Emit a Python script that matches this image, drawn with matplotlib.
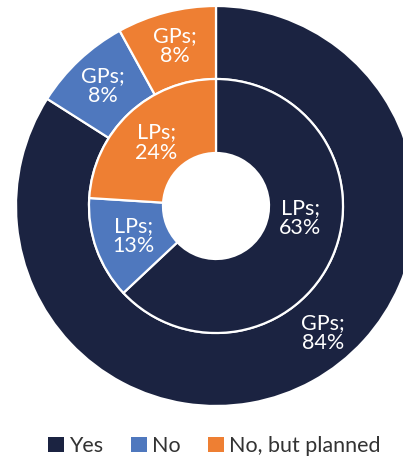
import matplotlib
matplotlib.use("Agg")
import matplotlib.pyplot as plt
from matplotlib.patches import Patch
import numpy as np

categories = ["Yes", "No", "No, but planned"]
gps_values = [84, 8, 8]
lps_values = [63, 13, 24]
colors = ["#1B2341", "#4F78BE", "#EE7F33"]

plt.rcParams['font.family'] = ['Lato', 'DejaVu Sans']

fig = plt.figure(figsize=(4.03, 4.59), dpi=100)
W, H = 403, 459
cx, cy, R = 216, 206, 200
ax = fig.add_axes([(cx - R) / W, (H - cy - R) / H, 2 * R / W, 2 * R / H])
ax.set_xlim(-1, 1)
ax.set_ylim(-1, 1)
ax.set_aspect('equal')
ax.axis('off')

r_outer = 1.0
r_mid = 0.635
r_hole = 0.265
lw = 1.6

w_out, _ = ax.pie(gps_values, radius=r_outer, colors=colors, startangle=90,
                  counterclock=False,
                  wedgeprops=dict(width=r_outer - r_mid, edgecolor='white', linewidth=lw))
w_in, _ = ax.pie(lps_values, radius=r_mid, colors=colors, startangle=90,
                 counterclock=False,
                 wedgeprops=dict(width=r_mid - r_hole, edgecolor='white', linewidth=lw))
ax.set_xlim(-1, 1)
ax.set_ylim(-1, 1)

def mid_angle(vals, i):
    tot = sum(vals)
    start = 90 - 360 * sum(vals[:i]) / tot
    return start - 180 * vals[i] / tot

# label placement: (radius, angle override)
outer_pos = [(0.83, -50), (0.825, None), (0.825, None)]
inner_pos = [(0.425, -8), (0.44, None), (0.435, None)]

lbl_kw = dict(ha='center', va='center', color='white', fontsize=15.5, linespacing=1.0)
for i, v in enumerate(gps_values):
    r, a = outer_pos[i]
    a = mid_angle(gps_values, i) if a is None else a
    ax.text(r * np.cos(np.radians(a)), r * np.sin(np.radians(a)), f"GPs;\n{v}%", **lbl_kw)
for i, v in enumerate(lps_values):
    r, a = inner_pos[i]
    a = mid_angle(lps_values, i) if a is None else a
    ax.text(r * np.cos(np.radians(a)), r * np.sin(np.radians(a)), f"LPs;\n{v}%", **lbl_kw)

handles = [Patch(facecolor=c, edgecolor='none') for c in colors]
fig.legend(handles, categories, loc='center', ncol=3,
           bbox_to_anchor=(214.5 / W, 1 - 446 / H), frameon=False,
           fontsize=15.5, handlelength=0.75, handleheight=0.75,
           handletextpad=0.24, columnspacing=1.27, labelcolor='#333333',
           borderaxespad=0, borderpad=0)

fig.savefig("out.png", dpi=100)
